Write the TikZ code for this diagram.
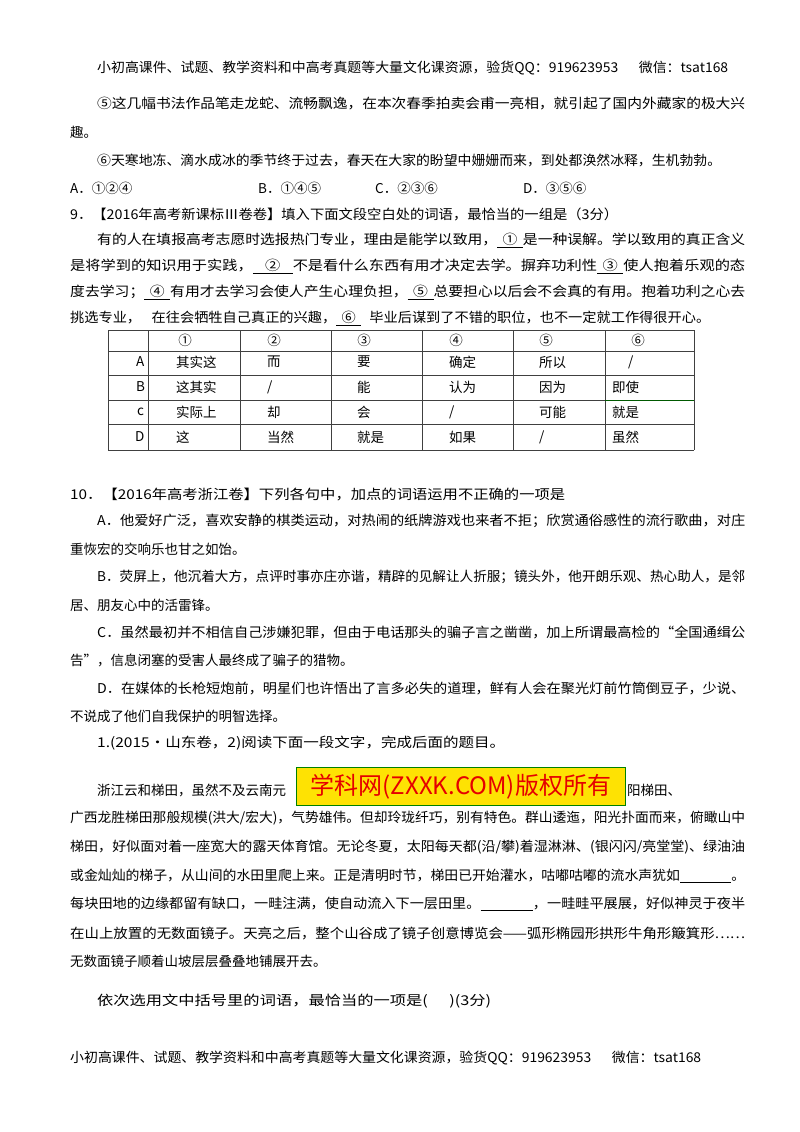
\documentclass[tikz,border=0pt]{standalone}
\usepackage{fontspec}
\usepackage{graphicx}
\setmainfont{Noto Sans CJK SC}
\newcommand{\fl}[2]{\resizebox{#1}{\height}{#2}}
\newcommand{\bl}[1]{\underline{\hspace{5pt}#1\hspace{5pt}}}
\begin{document}
\begin{tikzpicture}[x=1pt,y=-1pt,
  every node/.style={inner sep=0pt,anchor=west,font=\fontsize{13.5}{14}\selectfont},
  tl/.style={anchor=center},
  grid/.style={line width=0.6pt,draw=black!75}]
\useasboundingbox[fill=white] (0,0) rectangle (800,1132);
\node (h1) at (97,68) {\fl{631pt}{小初高课件、试题、教学资料和中高考真题等大量文化课资源，验货QQ：919623953\hspace{20pt}微信：tsat168}};
\node (l1) at (97,104) {\fl{648pt}{⑤这几幅书法作品笔走龙蛇、流畅飘逸，在本次春季拍卖会甫一亮相，就引起了国内外藏家的极大兴}};
\node (l2) at (70,132) {趣。};
\node (l3) at (97,160) {\fl{624pt}{⑥天寒地冻、滴水成冰的季节终于过去，春天在大家的盼望中姗姗而来，到处都涣然冰释，生机勃勃。}};
\node (oa) at (70,188) {A．①②④};
\node (ob) at (258,188) {B．①④⑤};
\node (oc) at (375,188) {C．②③⑥};
\node (od) at (523,188) {D．③⑤⑥};
\node (q9) at (70,214) {\fl{548pt}{9．【2016年高考新课标Ⅲ卷卷】填入下面文段空白处的词语，最恰当的一组是（3分）}};
\node (p1) at (97,240) {\fl{648pt}{有的人在填报高考志愿时选报热门专业，理由是能学以致用，\bl{①}是一种误解。学以致用的真正含义}};
\node (p2) at (70,266) {\fl{675pt}{是将学到的知识用于实践，\bl{\hspace{6pt}②\hspace{6pt}}不是看什么东西有用才决定去学。摒弃功利性\bl{③}使人抱着乐观的态}};
\node (p3) at (70,292) {\fl{675pt}{度去学习；\bl{④}有用才去学习会使人产生心理负担，\bl{⑤}总要担心以后会不会真的有用。抱着功利之心去}};
\node (p4) at (70,318) {\fl{640pt}{挑选专业，\hspace{10pt}在往会牺牲自己真正的兴趣，\bl{⑥}\hspace{8pt}毕业后谋到了不错的职位，也不一定就工作得很开心。}};
% table
\foreach \y in {330,351,375,400,424,450} \draw[grid] (108,\y) -- (694,\y);
\foreach \x in {108,148,240,331,422,513,605,694} \draw[grid] (\x,330) -- (\x,450);
\draw[line width=1pt,draw=green!35!black] (605,400) -- (694,400);
\node[tl] (c1) at (185,340) {①};
\node[tl] (c2) at (274,340) {②};
\node[tl] (c3) at (364,340) {③};
\node[tl] (c4) at (456,340) {④};
\node[tl] (c5) at (546,340) {⑤};
\node[tl] (c6) at (638,340) {⑥};
\node (ra) at (136,362) {A};
\node (rb) at (136,387) {B};
\node (rc) at (137,412) {c};
\node (rd) at (135,437) {D};
\node (a1) at (176,362) {其实这};\node (a2) at (267,362) {而};\node (a3) at (357,362) {要};\node (a4) at (449,362) {确定};\node (a5) at (539,362) {所以};\node (a6) at (628,362) {/};
\node (b1) at (176,387) {这其实};\node (b2) at (267,387) {/};\node (b3) at (357,387) {能};\node (b4) at (449,387) {认为};\node (b5) at (539,387) {因为};\node (b6) at (612,387) {即使};
\node (d1) at (176,412) {实际上};\node (d2) at (267,412) {却};\node (d3) at (357,412) {会};\node (d4) at (449,412) {/};\node (d5) at (539,412) {可能};\node (d6) at (612,412) {就是};
\node (e1) at (176,437) {这};\node (e2) at (267,437) {当然};\node (e3) at (357,437) {就是};\node (e4) at (449,437) {如果};\node (e5) at (539,437) {/};\node (e6) at (612,437) {虽然};
\node (q10) at (70,494) {\fl{495pt}{10．【2016年高考浙江卷】下列各句中，加点的词语运用不正确的一项是}};
\node (ta1) at (97,521) {\fl{648pt}{A．他爱好广泛，喜欢安静的棋类运动，对热闹的纸牌游戏也来者不拒；欣赏通俗感性的流行歌曲，对庄}};
\node (ta2) at (70,549) {重恢宏的交响乐也甘之如饴。};
\node (tb1) at (97,577) {\fl{648pt}{B．荧屏上，他沉着大方，点评时事亦庄亦谐，精辟的见解让人折服；镜头外，他开朗乐观、热心助人，是邻}};
\node (tb2) at (70,605) {居、朋友心中的活雷锋。};
\node (tc1) at (97,632) {\fl{648pt}{C．虽然最初并不相信自己涉嫌犯罪，但由于电话那头的骗子言之凿凿，加上所谓最高检的“全国通缉公}};
\node (tc2) at (70,660) {告”，信息闭塞的受害人最终成了骗子的猎物。};
\node (td1) at (97,688) {\fl{648pt}{D．在媒体的长枪短炮前，明星们也许悟出了言多必失的道理，鲜有人会在聚光灯前竹筒倒豆子，少说、}};
\node (td2) at (70,716) {不说成了他们自我保护的明智选择。};
\node (q1) at (97,743) {\fl{408pt}{1.(2015·山东卷，2)阅读下面一段文字，完成后面的题目。}};
\node (s1) at (97,790) {浙江云和梯田，虽然不及云南元};
\node[draw=green!50!black,line width=0.8pt,fill=yellow!85!orange,minimum width=329pt,minimum height=38pt,anchor=north west] (wm) at (296,767) {};
\node[tl,text=red!90!black,font=\fontsize{24}{26}\selectfont] (wmt) at (wm.center) {学科网(ZXXK.COM)版权所有};
\node (s1b) at (627,790) {阳梯田、};
\node (s2) at (70,818) {\fl{675pt}{广西龙胜梯田那般规模(洪大/宏大)，气势雄伟。但却玲珑纤巧，别有特色。群山逶迤，阳光扑面而来，俯瞰山中}};
\node (s3) at (70,847) {\fl{675pt}{梯田，好似面对着一座宽大的露天体育馆。无论冬夏，太阳每天都(沿/攀)着湿淋淋、(银闪闪/亮堂堂)、绿油油}};
\node (s4) at (70,876) {\fl{675pt}{或金灿灿的梯子，从山间的水田里爬上来。正是清明时节，梯田已开始灌水，咕嘟咕嘟的流水声犹如\underline{\hspace{50pt}}。}};
\node (s5) at (70,904) {\fl{675pt}{每块田地的边缘都留有缺口，一畦注满，使自动流入下一层田里。\underline{\hspace{50pt}}，一畦畦平展展，好似神灵于夜半}};
\node (s6) at (70,933) {\fl{675pt}{在山上放置的无数面镜子。天亮之后，整个山谷成了镜子创意博览会——弧形椭园形拱形牛角形簸箕形……}};
\node (s7) at (70,961) {无数面镜子顺着山坡层层叠叠地铺展开去。};
\node (q2) at (97,1001) {\fl{394pt}{依次选用文中括号里的词语，最恰当的一项是(\hspace{18pt})(3分)}};
\node (f1) at (70,1058) {\fl{631pt}{小初高课件、试题、教学资料和中高考真题等大量文化课资源，验货QQ：919623953\hspace{20pt}微信：tsat168}};
\end{tikzpicture}
\end{document}
